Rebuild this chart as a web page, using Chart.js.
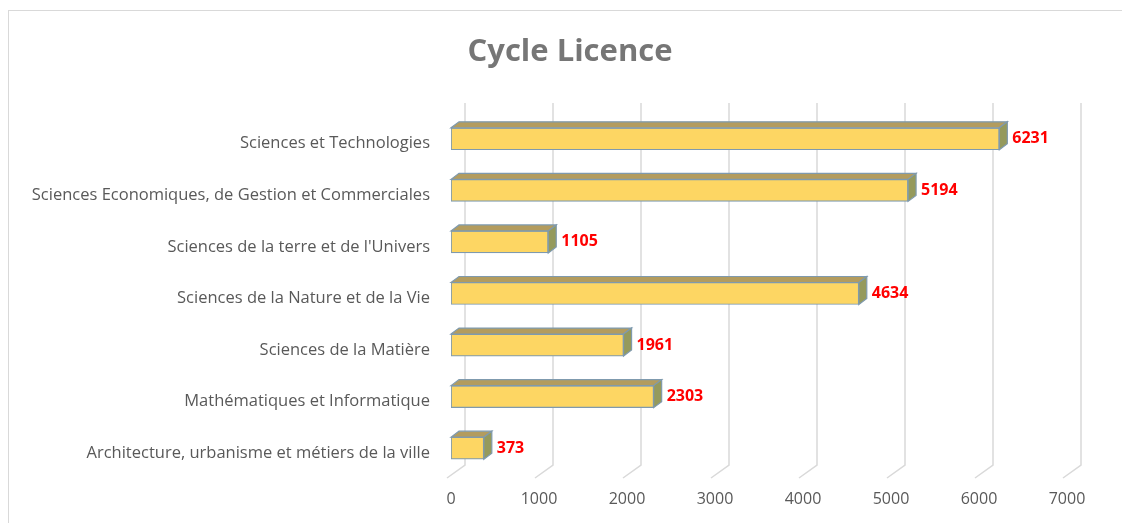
<!DOCTYPE html>
<html>
<head>
<meta charset="utf-8">
<script src="https://cdn.jsdelivr.net/npm/chart.js@4.4.1/dist/chart.umd.min.js"></script>
<style>
  html, body { margin: 0; padding: 0; background: #ffffff; overflow: hidden; }
  #wrap { position: relative; width: 1122px; height: 523px; }
  #frame { position: absolute; left: 8px; top: 10px; width: 1200px; height: 600px; border: 1px solid #d9d9d9; box-sizing: border-box; }
  canvas { position: absolute; left: 0; top: 0; }
</style>
</head>
<body>
<div id="wrap">
  <div id="frame"></div>
  <canvas id="c" width="1122" height="523"></canvas>
</div>
<script>
const categories = [
  "Sciences et Technologies",
  "Sciences Economiques, de Gestion et Commerciales",
  "Sciences de la terre et de l'Univers",
  "Sciences de la Nature et de la Vie",
  "Sciences de la Matière",
  "Mathématiques et Informatique",
  "Architecture, urbanisme et métiers de la ville"
];
const values = [6231, 5194, 1105, 4634, 1961, 2303, 373];
const xTicks = [0, 1000, 2000, 3000, 4000, 5000, 6000, 7000];
const chartTitle = "Cycle Licence";

const FONT = "'Open Sans', 'Noto Sans', sans-serif";
const DX = 8, DY = 6;        // bar depth
const GDX = 14, GDY = 13;    // wall depth for gridlines

const titleDraw = {
  id: 'titleDraw',
  afterDraw(chart) {
    const ctx = chart.ctx;
    ctx.save();
    ctx.fillStyle = '#767676';
    ctx.font = "bold 31px " + FONT;
    ctx.textAlign = 'center';
    ctx.textBaseline = 'middle';
    ctx.fillText(chartTitle, 570, 52);
    ctx.restore();
  }
};

const grid3d = {
  id: 'grid3d',
  beforeDatasetsDraw(chart) {
    const ctx = chart.ctx, xs = chart.scales.x, a = chart.chartArea;
    ctx.save();
    ctx.strokeStyle = '#d9d9d9';
    ctx.lineWidth = 1.5;
    xTicks.forEach(v => {
      const xf = xs.getPixelForValue(v);
      ctx.beginPath();
      ctx.moveTo(xf + GDX, a.top - 10);
      ctx.lineTo(xf + GDX, a.bottom - 9);
      ctx.lineTo(xf - 4, a.bottom + 4);
      ctx.stroke();
    });
    ctx.restore();
  }
};

const bars3d = {
  id: 'bars3d',
  afterDatasetsDraw(chart) {
    const ctx = chart.ctx;
    const meta = chart.getDatasetMeta(0);
    ctx.save();
    meta.data.forEach((el, i) => {
      const p = el.getProps(['x', 'y', 'base', 'height'], true);
      const l = p.base, r = p.x, t = p.y - p.height / 2, b = p.y + p.height / 2;
      ctx.lineWidth = 1.2;
      ctx.strokeStyle = '#7f9aae';
      // top face
      ctx.beginPath();
      ctx.moveTo(l, t); ctx.lineTo(l + DX, t - DY); ctx.lineTo(r + DX, t - DY); ctx.lineTo(r, t); ctx.closePath();
      ctx.fillStyle = '#b39c5e'; ctx.fill(); ctx.stroke();
      // side face
      ctx.beginPath();
      ctx.moveTo(r, t); ctx.lineTo(r + DX, t - DY); ctx.lineTo(r + DX, b - DY); ctx.lineTo(r, b); ctx.closePath();
      ctx.fillStyle = '#959a5c'; ctx.fill(); ctx.stroke();
      // label
      ctx.fillStyle = '#ff0000';
      ctx.font = "bold 16px " + FONT;
      ctx.textAlign = 'left';
      ctx.textBaseline = 'middle';
      ctx.fillText(String(values[i]), r + DX + 5, p.y);
    });
    ctx.restore();
  }
};

new Chart(document.getElementById('c'), {
  type: 'bar',
  data: {
    labels: categories,
    datasets: [{
      data: values,
      backgroundColor: '#fdd663',
      borderColor: '#7f9aae',
      borderWidth: 1.2,
      borderSkipped: false,
      barThickness: 22
    }]
  },
  options: {
    indexAxis: 'y',
    responsive: false,
    animation: false,
    devicePixelRatio: 1,
    layout: { padding: { left: 0, right: 55, top: 113, bottom: 0 } },
    plugins: {
      legend: { display: false },
      tooltip: { enabled: false },
      title: { display: false }
    },
    scales: {
      x: {
        min: 0, max: 7000,
        afterBuildTicks(s) { s.ticks = xTicks.map(v => ({ value: v })); },
        afterFit(s) { s.height = 49; },
        grid: { display: false, drawTicks: false },
        border: { display: false },
        ticks: { color: '#595959', font: { family: FONT, size: 16 }, padding: 16, callback: v => String(v) }
      },
      y: {
        afterFit(s) { s.width = 451; },
        grid: { display: false, drawTicks: false },
        border: { display: false },
        ticks: { color: '#595959', font: { family: FONT, size: 16.5 }, padding: 21, labelOffset: 5 }
      }
    }
  },
  plugins: [grid3d, bars3d, titleDraw]
});
</script>
</body>
</html>
